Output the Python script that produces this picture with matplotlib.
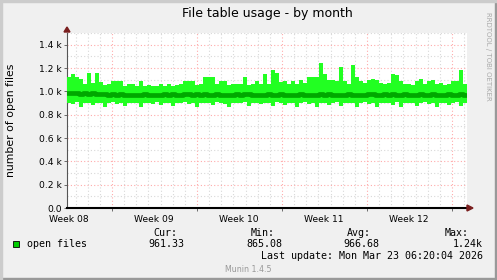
import numpy as np
import matplotlib
matplotlib.use("Agg")
import matplotlib.pyplot as plt
from matplotlib.ticker import FuncFormatter, MultipleLocator, FixedLocator

# x axis in days, 0 = first red (weekly) grid line
x_start, x_end = -3.71, 29.24
week_labels = ["Week 08", "Week 09", "Week 10", "Week 11", "Week 12"]
week_label_pos = [-3.54, 3.46, 10.46, 17.46, 24.46]

# per-bin envelope of the monthly data (open files)
upper = [1120, 1150, 1123, 1106, 1060, 1157, 1070, 1157, 1080, 1055,
         1060, 1089, 1089, 1089, 1050, 1060, 1060, 1045, 1089, 1050,
         1055, 1050, 1045, 1065, 1050, 1060, 1050, 1055, 1065, 1090,
         1090, 1085, 1055, 1060, 1120, 1120, 1120, 1060, 1090, 1085,
         1055, 1060, 1065, 1060, 1123, 1055, 1065, 1090, 1060, 1150,
         1060, 1183, 1157, 1080, 1090, 1060, 1090, 1060, 1095, 1070,
         1120, 1120, 1120, 1245, 1150, 1100, 1095, 1090, 1211, 1090,
         1060, 1226, 1120, 1090, 1070, 1095, 1110, 1100, 1075, 1060,
         1070, 1150, 1140, 1090, 1065, 1060, 1055, 1085, 1110, 1065,
         1090, 1095, 1060, 1070, 1055, 1065, 1090, 1090, 1183, 1065]
lower = [900, 895, 905, 870, 900, 898, 880, 902, 900, 868,
         898, 905, 890, 900, 875, 902, 898, 900, 870, 903,
         900, 895, 905, 880, 900, 902, 872, 898, 900, 905,
         890, 900, 868, 902, 898, 900, 880, 905, 900, 895,
         870, 902, 900, 898, 905, 875, 900, 902, 890, 900,
         898, 872, 905, 900, 880, 902, 898, 868, 900, 905,
         895, 900, 870, 902, 898, 880, 900, 905, 875, 900,
         898, 902, 866, 900, 905, 890, 900, 870, 898, 902,
         900, 880, 905, 868, 900, 898, 902, 875, 900, 905,
         890, 900, 870, 902, 898, 880, 900, 905, 872, 900]
avg = [985, 982, 988, 978, 984, 980, 986, 976, 975, 979,
       972, 976, 970, 974, 968, 972, 966, 970, 968, 974,
       970, 966, 972, 968, 974, 970, 976, 972, 968, 974,
       978, 972, 976, 970, 974, 968, 972, 976, 970, 966,
       972, 968, 974, 970, 978, 974, 968, 972, 966, 970,
       974, 968, 972, 976, 970, 966, 972, 968, 974, 970,
       966, 972, 968, 976, 970, 974, 968, 972, 966, 970,
       974, 970, 966, 972, 968, 974, 978, 972, 968, 974,
       970, 976, 972, 968, 974, 970, 966, 972, 976, 970,
       968, 974, 970, 966, 972, 976, 970, 968, 974, 970]

legend_head = ["Cur:", "Min:", "Avg:", "Max:"]
legend_vals = ["961.33", "865.08", "966.68", "1.24k"]
last_update = "Last update: Mon Mar 23 06:20:04 2026"

W, H = 497, 280
fig = plt.figure(figsize=(W / 100, H / 100), dpi=100, facecolor="#f0f0f0")


def px(x, y):
    return x / W, 1 - y / H


ax = fig.add_axes([67 / W, 1 - 208 / H, 400 / W, 175 / H])
ax.set_facecolor("white")
ax.set_xlim(x_start, x_end)
ax.set_ylim(0, 1500)

n = len(upper)
edges = np.linspace(x_start, x_end, n + 1)
up = np.append(upper, upper[-1])
lo = np.append(lower, lower[-1])
av = np.append(avg, avg[-1])
ax.fill_between(edges, lo, up, step="post", color="#22ff22", lw=0, zorder=3)
ax.step(edges, av, where="post", color="#00a800", lw=3.4, zorder=4)

# grid
for d in np.arange(np.ceil(x_start), x_end):
    col = "#ffaaaa" if int(d) % 7 == 0 else "#d8d8d8"
    ax.axvline(d, color=col, lw=0.8, ls=(0, (1, 2)), zorder=1)
for v in range(100, 1501, 100):
    col = "#ffaaaa" if v % 200 == 0 else "#d8d8d8"
    ax.axhline(v, color=col, lw=0.8, ls=(0, (1, 2)), zorder=1)

ax.yaxis.set_major_locator(MultipleLocator(200))
ax.yaxis.set_major_formatter(FuncFormatter(lambda v, p: "0.0" if v == 0 else f"{v / 1000:.1f} k"))
ax.xaxis.set_major_locator(FixedLocator(week_label_pos))
ax.set_xticklabels(week_labels)
ax.xaxis.set_minor_locator(MultipleLocator(7))
ax.tick_params(axis="both", labelsize=6.6, length=2, width=0.6, color="#555555", pad=1.5)
ax.tick_params(axis="x", which="major", length=0, pad=5)
ax.tick_params(axis="x", which="minor", length=2.5, width=0.6, color="#555555")

for s in ["top", "right"]:
    ax.spines[s].set_visible(False)
ax.spines["left"].set_color("#555555")
ax.spines["left"].set_linewidth(0.8)
ax.spines["bottom"].set_color("black")
ax.spines["bottom"].set_linewidth(1.5)
ax.spines["bottom"].set_zorder(5)

# axis arrows
fig.patches.append(plt.Polygon([px(64, 32), px(70, 32), px(67, 27)], closed=True,
                               transform=fig.transFigure, color="#7a1f1f"))
fig.patches.append(plt.Polygon([px(467, 205), px(467, 211), px(473, 208)], closed=True,
                               transform=fig.transFigure, color="#7a1f1f"))

fig.text(*px(267, 13), "File table usage - by month", ha="center", va="center", fontsize=9)
fig.text(*px(11, 120), "number of open files", ha="center", va="center", rotation=90, fontsize=7.8)
fig.text(*px(488, 56), "RRDTOOL / TOBI OETIKER", ha="center", va="center", rotation=270,
         fontsize=5, color="#aaaaaa")

mono = "DejaVu Sans Mono"
fig.patches.append(plt.Rectangle(px(13, 247), 6 / W, 6 / H, transform=fig.transFigure,
                                 facecolor="#00cc00", edgecolor="black", lw=0.6))
fig.text(*px(27, 244), "open files", ha="left", va="center", fontsize=7.2, family=mono)
head_x = [177, 275, 371, 469]
val_x = [184, 282, 379, 483]
for t, x in zip(legend_head, head_x):
    fig.text(*px(x, 233), t, ha="right", va="center", fontsize=7.2, family=mono)
for t, x in zip(legend_vals, val_x):
    fig.text(*px(x, 244), t, ha="right", va="center", fontsize=7.2, family=mono)
fig.text(*px(483, 256), last_update, ha="right", va="center", fontsize=7.2, family=mono)
fig.text(*px(248, 269), "Munin 1.4.5", ha="center", va="center", fontsize=5.7, color="#999999")

# 3D-ish frame
fig.patches.append(plt.Rectangle((0, 0), 1, 2 / H, transform=fig.transFigure, color="#999999"))
fig.patches.append(plt.Rectangle((1 - 2 / W, 0), 2 / W, 1, transform=fig.transFigure, color="#999999"))
fig.patches.append(plt.Rectangle((0, 1 - 2 / H), 1, 2 / H, transform=fig.transFigure, color="#cccccc"))
fig.patches.append(plt.Rectangle((0, 0), 2 / W, 1, transform=fig.transFigure, color="#cccccc"))

fig.savefig("out.png", dpi=100, facecolor=fig.get_facecolor())
